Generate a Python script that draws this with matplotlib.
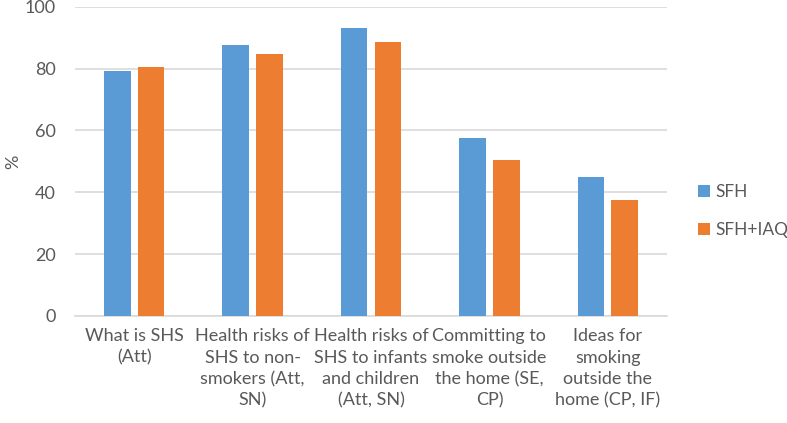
import matplotlib.pyplot as plt
import numpy as np

plt.rcParams['font.family'] = ['Lato', 'DejaVu Sans']

categories = ['What is SHS\n(Att)',
              'Health risks of\nSHS to non-\nsmokers (Att,\nSN)',
              'Health risks of\nSHS to infants\nand children\n(Att, SN)',
              'Committing to\nsmoke outside\nthe home (SE,\nCP)',
              'Ideas for\nsmoking\noutside the\nhome (CP, IF)']
sfh = [79.3, 87.5, 93.2, 57.7, 45.0]
sfh_iaq = [80.6, 84.7, 88.5, 50.5, 37.5]

text_col = '#595959'
grid_col = '#d9d9d9'

fig = plt.figure(figsize=(7.87, 4.23), dpi=100)
ax = fig.add_axes([0.0953, 0.253, 0.7522, 0.731])

x = np.arange(len(categories))
w = 0.225
ax.bar(x - 0.143, sfh, w, color='#5b9bd5', label='SFH', zorder=3)
ax.bar(x + 0.143, sfh_iaq, w, color='#ed7d31', label='SFH+IAQ', zorder=3)

ax.set_xlim(-0.5, len(categories) - 0.5)
ax.set_ylim(0, 100)
ax.set_yticks(range(0, 101, 20))
ax.grid(axis='y', color=grid_col, lw=1.2, zorder=0)
for s in ['top', 'right', 'left']:
    ax.spines[s].set_visible(False)
ax.spines['bottom'].set_color(grid_col)
ax.spines['bottom'].set_linewidth(1.2)

ax.set_xticks(x)
ax.set_xticklabels(categories, linespacing=1.4)
ax.tick_params(axis='both', length=0, colors=text_col, labelsize=13)
ax.tick_params(axis='x', pad=9)
ax.tick_params(axis='y', pad=14)
ax.set_ylabel('%', color=text_col, fontsize=13)
ax.yaxis.set_label_coords(-0.09, 0.5)

leg = ax.legend(loc='center left', bbox_to_anchor=(1.04, 0.34), frameon=False,
                fontsize=12.5, handlelength=0.7, handleheight=0.7,
                handletextpad=0.3, labelspacing=1.25, borderaxespad=0)
for t in leg.get_texts():
    t.set_color(text_col)

plt.savefig('out.png', dpi=100)
